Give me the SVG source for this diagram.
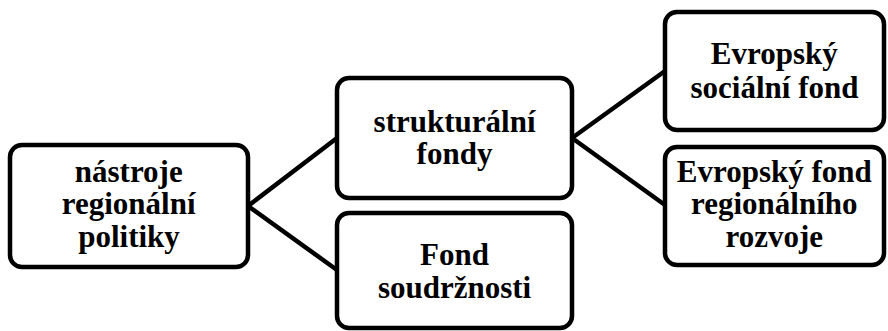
<svg xmlns="http://www.w3.org/2000/svg" width="888" height="331" viewBox="0 0 888 331">
<style>
.box{fill:#fff;stroke:#000;stroke-width:4.5}
.conn{stroke:#000;stroke-width:4.5;fill:none}
</style>
<rect width="888" height="331" fill="#fff"/>
<g id="connectors">
<path class="conn" d="M248,206 L337,138 M248,206 L337,270"/>
<path class="conn" d="M572,138 L665,71 M572,138 L665,205"/>
</g>
<g id="n1">
<rect class="box" x="10" y="145" width="238" height="122" rx="12"/>
<text x="74.8" y="182" font-family="Liberation Serif" font-weight="bold" font-size="31">nástroje</text>
<text x="61.8" y="214" font-family="Liberation Serif" font-weight="bold" font-size="31">regionální</text>
<text x="78.2" y="247" font-family="Liberation Serif" font-weight="bold" font-size="31">politiky</text>
</g>
<g id="n2">
<rect class="box" x="337" y="78" width="235" height="120" rx="12"/>
<text x="373.6" y="132" font-family="Liberation Serif" font-weight="bold" font-size="31">strukturální</text>
<text x="416.6" y="164" font-family="Liberation Serif" font-weight="bold" font-size="31">fondy</text>
</g>
<g id="n3">
<rect class="box" x="337" y="213" width="235" height="115" rx="12"/>
<text x="420.1" y="265" font-family="Liberation Serif" font-weight="bold" font-size="31">Fond</text>
<text x="377.9" y="298" font-family="Liberation Serif" font-weight="bold" font-size="31">soudržnosti</text>
</g>
<g id="n4">
<rect class="box" x="665" y="12" width="219" height="118" rx="12"/>
<text x="710.8" y="64" font-family="Liberation Serif" font-weight="bold" font-size="31">Evropský</text>
<text x="690.5" y="98" font-family="Liberation Serif" font-weight="bold" font-size="31">sociální fond</text>
</g>
<g id="n5">
<rect class="box" x="665" y="147" width="219" height="118" rx="12"/>
<text x="676.8" y="182" font-family="Liberation Serif" font-weight="bold" font-size="31">Evropský fond</text>
<text x="691.0" y="214" font-family="Liberation Serif" font-weight="bold" font-size="31">regionálního</text>
<text x="725.5" y="247" font-family="Liberation Serif" font-weight="bold" font-size="31">rozvoje</text>
</g>
</svg>
